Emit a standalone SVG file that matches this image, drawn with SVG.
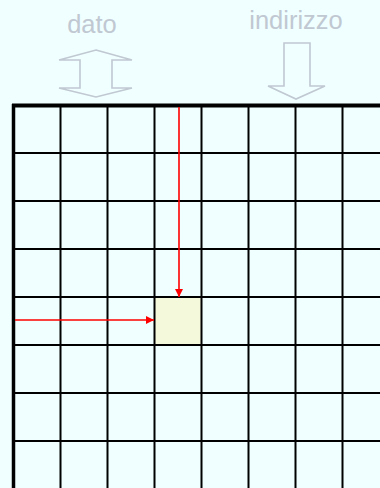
<svg xmlns="http://www.w3.org/2000/svg" width="380" height="488" viewBox="0 0 380 488">
<style>
.lbl{font-family:"Liberation Sans",Arial,sans-serif;font-size:25.5px;fill:#c0c8d2;text-anchor:middle}
.outl{fill:none;stroke:#c0c8d2;stroke-width:1.6;stroke-linejoin:miter}
.g{stroke:#000;stroke-width:2}
.red{stroke:#ff0000;stroke-width:1.6;fill:none}
</style>
<defs>
<marker id="ah" viewBox="0 0 10 10" refX="10" refY="5" markerWidth="9" markerHeight="8" markerUnits="userSpaceOnUse" orient="auto">
<path d="M0,0 L10,5 L0,10 Z" fill="#ff0000"/>
</marker>
</defs>
<rect width="380" height="488" fill="#f0ffff"/>
<g id="dato">
<text class="lbl" x="92" y="33">dato</text>
<polygon class="outl" points="96,50 132,60 112,60 112,88 132,88 96,97 59,88 80,88 80,60 59,60"/>
</g>
<g id="indirizzo">
<text class="lbl" x="296" y="29">indirizzo</text>
<polygon class="outl" points="284,43 310,43 310,86 325,86 296,99 268,86 284,86"/>
</g>
<g id="cell">
<rect x="154.5" y="297" width="47" height="48" fill="#f5f9dc"/>
</g>
<g id="grid">
<line class="g" x1="60.5" y1="105" x2="60.5" y2="488"/>
<line class="g" x1="107.5" y1="105" x2="107.5" y2="488"/>
<line class="g" x1="154.5" y1="105" x2="154.5" y2="488"/>
<line class="g" x1="201.5" y1="105" x2="201.5" y2="488"/>
<line class="g" x1="248.5" y1="105" x2="248.5" y2="488"/>
<line class="g" x1="295.5" y1="105" x2="295.5" y2="488"/>
<line class="g" x1="342.5" y1="105" x2="342.5" y2="488"/>
<line class="g" x1="14" y1="153" x2="380" y2="153"/>
<line class="g" x1="14" y1="201" x2="380" y2="201"/>
<line class="g" x1="14" y1="249" x2="380" y2="249"/>
<line class="g" x1="14" y1="297" x2="380" y2="297"/>
<line class="g" x1="14" y1="345" x2="380" y2="345"/>
<line class="g" x1="14" y1="393" x2="380" y2="393"/>
<line class="g" x1="14" y1="441" x2="380" y2="441"/>
<line x1="12" y1="105.5" x2="380" y2="105.5" stroke="#000" stroke-width="4"/>
<line x1="13.5" y1="104" x2="13.5" y2="488" stroke="#000" stroke-width="3.5"/>
</g>
<g id="connectors">
<line class="red" x1="179" y1="107" x2="179" y2="297" marker-end="url(#ah)"/>
<line class="red" x1="15" y1="320" x2="154" y2="320" marker-end="url(#ah)"/>
</g>
</svg>
